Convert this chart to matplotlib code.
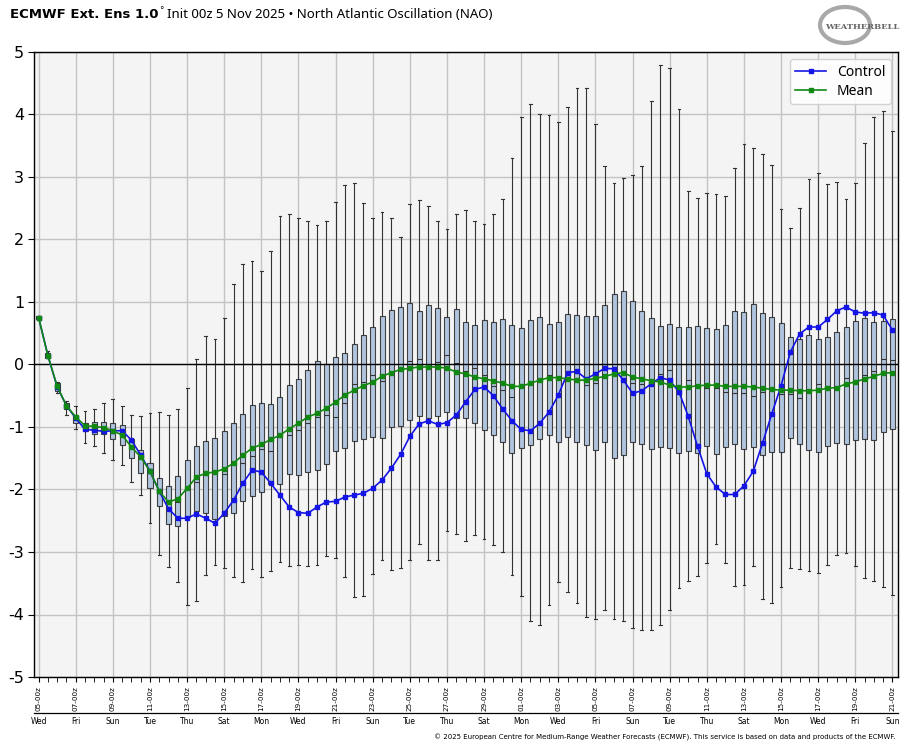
import numpy as np
import pandas as pd
import matplotlib
matplotlib.use("Agg")
import matplotlib.pyplot as plt
from matplotlib.patches import Ellipse
from matplotlib.lines import Line2D
import matplotlib.transforms as mtransforms

plt.rcParams['font.family'] = ['DejaVu Sans']
plt.rcParams['axes.unicode_minus'] = False

# NAO forecast, 12-hourly steps from 00z 5 Nov 2025
control = [0.75, 0.14, -0.36, -0.66, -0.86, -1.04, -1.05, -1.07, -1.06, -1.06,
           -1.21, -1.45, -1.71, -2.03, -2.31, -2.46, -2.46, -2.39, -2.46, -2.54,
           -2.38, -2.17, -1.90, -1.69, -1.72, -1.90, -2.09, -2.28, -2.37, -2.38,
           -2.28, -2.20, -2.19, -2.12, -2.09, -2.06, -1.98, -1.85, -1.66, -1.44,
           -1.15, -0.95, -0.90, -0.96, -0.93, -0.81, -0.60, -0.40, -0.36, -0.50,
           -0.71, -0.90, -1.04, -1.06, -0.94, -0.76, -0.49, -0.13, -0.11, -0.23,
           -0.15, -0.06, -0.07, -0.25, -0.46, -0.42, -0.31, -0.21, -0.25, -0.44,
           -0.83, -1.31, -1.75, -1.96, -2.08, -2.08, -1.94, -1.71, -1.26, -0.79,
           -0.34, 0.20, 0.49, 0.60, 0.60, 0.72, 0.86, 0.92, 0.84, 0.82,
           0.83, 0.79, 0.55]
mean = [0.75, 0.14, -0.35, -0.66, -0.84, -0.98, -0.99, -1.01, -1.06, -1.13,
        -1.32, -1.48, -1.71, -2.03, -2.20, -2.15, -1.98, -1.80, -1.74, -1.72,
        -1.67, -1.58, -1.45, -1.34, -1.28, -1.20, -1.13, -1.03, -0.94, -0.84,
        -0.78, -0.70, -0.60, -0.49, -0.41, -0.34, -0.28, -0.19, -0.13, -0.08,
        -0.06, -0.04, -0.04, -0.04, -0.06, -0.12, -0.15, -0.20, -0.23, -0.26,
        -0.30, -0.35, -0.35, -0.30, -0.25, -0.21, -0.21, -0.23, -0.25, -0.25,
        -0.22, -0.19, -0.15, -0.13, -0.20, -0.23, -0.26, -0.28, -0.33, -0.36,
        -0.36, -0.34, -0.33, -0.33, -0.35, -0.35, -0.35, -0.36, -0.38, -0.40,
        -0.41, -0.41, -0.42, -0.42, -0.41, -0.38, -0.37, -0.31, -0.28, -0.23,
        -0.19, -0.14, -0.13]
q3 = [0.77, 0.18, -0.30, -0.62, -0.81, -0.94, -0.92, -0.92, -0.94, -0.97,
      -1.19, -1.37, -1.58, -1.81, -1.94, -1.78, -1.53, -1.31, -1.22, -1.17,
      -1.07, -0.94, -0.79, -0.65, -0.62, -0.63, -0.52, -0.33, -0.24, -0.09,
      0.05, 0.01, 0.12, 0.18, 0.32, 0.47, 0.60, 0.78, 0.87, 0.92,
      0.98, 0.86, 0.95, 0.90, 0.76, 0.88, 0.68, 0.63, 0.71, 0.68,
      0.73, 0.63, 0.58, 0.71, 0.76, 0.65, 0.68, 0.81, 0.79, 0.77,
      0.77, 0.95, 1.13, 1.17, 1.02, 0.86, 0.74, 0.62, 0.65, 0.60,
      0.60, 0.62, 0.59, 0.56, 0.63, 0.86, 0.84, 0.96, 0.83, 0.76,
      0.67, 0.44, 0.40, 0.47, 0.40, 0.44, 0.52, 0.60, 0.70, 0.74,
      0.68, 0.70, 0.72]
q1 = [0.73, 0.11, -0.42, -0.72, -0.94, -1.06, -1.11, -1.12, -1.19, -1.29,
      -1.49, -1.74, -1.97, -2.26, -2.56, -2.58, -2.44, -2.35, -2.38, -2.47,
      -2.42, -2.37, -2.19, -2.10, -2.04, -1.91, -1.91, -1.76, -1.77, -1.72,
      -1.69, -1.59, -1.38, -1.34, -1.22, -1.19, -1.16, -1.17, -1.00, -0.99,
      -0.89, -0.83, -0.86, -0.83, -0.76, -0.86, -0.86, -0.94, -1.05, -1.13,
      -1.24, -1.42, -1.33, -1.29, -1.19, -1.13, -1.24, -1.16, -1.24, -1.29,
      -1.37, -1.24, -1.50, -1.45, -1.24, -1.27, -1.35, -1.32, -1.34, -1.41,
      -1.38, -1.42, -1.31, -1.44, -1.32, -1.28, -1.36, -1.32, -1.45, -1.40,
      -1.40, -1.18, -1.28, -1.37, -1.40, -1.30, -1.26, -1.27, -1.21, -1.19,
      -1.21, -1.08, -1.03]
median = [0.75, 0.15, -0.36, -0.67, -0.87, -1.00, -1.00, -1.02, -1.06, -1.12,
          -1.33, -1.50, -1.72, -2.06, -2.31, -2.20, -2.00, -1.88, -1.77, -1.74,
          -1.75, -1.60, -1.58, -1.46, -1.35, -1.38, -1.16, -1.13, -1.05, -0.94,
          -0.84, -0.81, -0.84, -0.62, -0.31, -0.28, -0.17, -0.26, -0.13, -0.08,
          0.06, 0.09, -0.04, 0.04, 0.15, 0.02, -0.10, -0.05, -0.17, -0.34,
          -0.41, -0.52, -0.35, -0.29, -0.24, -0.17, -0.23, -0.20, -0.13, -0.33,
          -0.29, -0.20, -0.15, -0.12, -0.29, -0.31, -0.29, -0.15, -0.09, -0.36,
          -0.25, -0.33, -0.38, -0.38, -0.44, -0.46, -0.46, -0.50, -0.44, -0.38,
          -0.47, -0.47, -0.54, -0.42, -0.31, -0.35, -0.36, -0.21, -0.28, -0.17,
          -0.10, 0.08, 0.07]
ens_max = [0.78, 0.22, -0.28, -0.58, -0.67, -0.74, -0.72, -0.62, -0.56, -0.67,
           -0.81, -0.83, -0.78, -0.76, -0.81, -0.71, -0.37, 0.09, 0.46, 0.40,
           0.74, 1.29, 1.60, 1.66, 1.50, 1.82, 2.37, 2.40, 2.35, 2.29,
           2.23, 2.30, 2.60, 2.87, 2.90, 2.58, 2.34, 2.44, 2.35, 2.04,
           2.57, 2.63, 2.54, 2.29, 2.17, 2.40, 2.47, 2.29, 2.24, 2.40,
           2.64, 3.31, 3.96, 4.16, 4.01, 3.99, 3.88, 4.12, 4.43, 4.43,
           3.85, 3.18, 2.90, 2.99, 3.03, 3.18, 4.21, 4.79, 4.75, 4.08,
           2.78, 2.67, 2.75, 2.73, 2.69, 3.15, 3.52, 3.47, 3.37, 3.19,
           2.49, 2.19, 2.51, 2.97, 3.06, 2.89, 2.92, 2.64, 2.91, 3.54,
           3.96, 4.06, 3.74]
ens_min = [0.72, 0.10, -0.45, -0.81, -1.04, -1.26, -1.31, -1.41, -1.53, -1.61,
           -1.88, -2.09, -2.54, -3.04, -3.24, -3.48, -3.85, -3.78, -3.37, -3.21,
           -3.26, -3.40, -3.48, -3.28, -3.40, -3.31, -3.16, -3.22, -3.20, -3.22,
           -3.20, -3.06, -3.10, -3.40, -3.72, -3.71, -3.36, -3.12, -3.29, -3.26,
           -3.12, -2.88, -3.13, -3.13, -2.67, -2.71, -2.83, -2.72, -2.79, -2.89,
           -3.00, -3.37, -3.71, -4.11, -4.16, -3.85, -3.48, -3.64, -3.82, -4.04,
           -4.07, -3.93, -4.07, -4.10, -4.21, -4.24, -4.24, -4.16, -3.93, -3.58,
           -3.46, -3.39, -3.18, -2.88, -3.18, -3.55, -3.53, -3.22, -3.76, -3.82,
           -3.56, -3.25, -3.27, -3.31, -3.33, -3.20, -3.04, -3.02, -3.23, -3.42,
           -3.46, -3.56, -3.69]

# forecast lead time in days, and the labelled dates (every 2 days)
lead_days = np.arange(len(control)) * 0.5
label_dates = pd.date_range("2025-11-05", "2025-12-21", freq="2D")
date_labels = [d.strftime("%d-00z") for d in label_dates]
day_labels = [d.strftime("%a") for d in label_dates]
label_days = np.arange(len(label_dates)) * 2.0

W, H = 914, 750
fig = plt.figure(figsize=(W / 100, H / 100), dpi=100)
ax = fig.add_axes([34 / W, 1 - 677 / H, 864 / W, 625 / H])
ax.set_facecolor("#f4f4f4")

stats = []
for i in range(len(control)):
    stats.append(dict(med=median[i], q1=q1[i], q3=q3[i],
                      whislo=ens_min[i], whishi=ens_max[i], fliers=[]))
ax.bxp(stats, positions=lead_days, widths=0.27, capwidths=0.15,
       patch_artist=True, showfliers=False, manage_ticks=False,
       boxprops=dict(facecolor="#b0c4de", edgecolor="#404040", linewidth=0.8),
       whiskerprops=dict(color="#333333", linewidth=0.8),
       capprops=dict(color="#333333", linewidth=0.8),
       medianprops=dict(color="#333333", linewidth=0.8))

ax.axhline(0, color="black", linewidth=1.0, zorder=2.5)
ax.plot(lead_days, control, color="#1414e6", lw=1.2, marker="s", ms=2.2,
        label="Control", zorder=4)
ax.plot(lead_days, mean, color="#118811", lw=1.2, marker="s", ms=2.2,
        label="Mean", zorder=4)

ax.set_xlim(-0.25, 46.3)
ax.set_ylim(-5, 5)
ax.set_yticks(np.arange(-5, 6, 1))
ax.tick_params(axis="y", labelsize=11.5, length=4, pad=3)
ax.set_xticks(label_days)
ax.set_xticklabels(date_labels, rotation=90, fontsize=5.2)
ax.set_xticks(lead_days, minor=True)
ax.tick_params(axis="x", which="both", length=3.5, pad=3)
ax.grid(True, which="major", color="#c4c4c4", linewidth=1.0)
ax.set_axisbelow(True)
for s in ax.spines.values():
    s.set_linewidth(1.0)

leg = ax.legend(loc="upper right", handlelength=2.2,
                borderpad=0.4, labelspacing=0.3, framealpha=0.85,
                prop={"family": "Noto Sans", "size": 10})

# day-of-week row under a separator line
fig.add_artist(Line2D([34 / W, 898 / W], [1 - 713 / H, 1 - 713 / H],
                      color="black", lw=0.9))
trans = mtransforms.blended_transform_factory(ax.transData, fig.transFigure)
for xd, dl in zip(label_days, day_labels):
    fig.text(xd, 1 - 721 / H, dl, transform=trans, ha="center", va="center",
             fontsize=5.5)

# title
t1 = fig.text(10 / W, 1 - 14 / H, "ECMWF Ext. Ens 1.0", fontsize=9.5,
              fontweight="bold", va="center")
fig.canvas.draw()
bb = t1.get_window_extent()
fig.text(bb.x1 / W + 1 / W, 1 - 11 / H, "°", fontsize=6.5, va="center")
fig.text(bb.x1 / W + 9 / W, 1 - 14 / H,
         "Init 00z 5 Nov 2025 • North Atlantic Oscillation (NAO)",
         fontsize=9.5, va="center", family="Noto Sans")

# copyright
fig.text(896 / W, 1 - 737 / H,
         "© 2025 European Centre for Medium-Range Weather Forecasts (ECMWF). "
         "This service is based on data and products of the ECMWF.",
         fontsize=5, ha="right", va="center")

# logo
fig.add_artist(Ellipse((845 / W, 1 - 25 / H), 50 / W, 36 / H, fill=False,
                       edgecolor="#a8a8a8", lw=3, transform=fig.transFigure))
fig.text(862 / W, 1 - 27 / H, "WEATHERBELL", fontsize=6, family="serif",
         color="#666666", ha="center", va="center", fontweight="bold")

fig.savefig("out.png", dpi=100)
